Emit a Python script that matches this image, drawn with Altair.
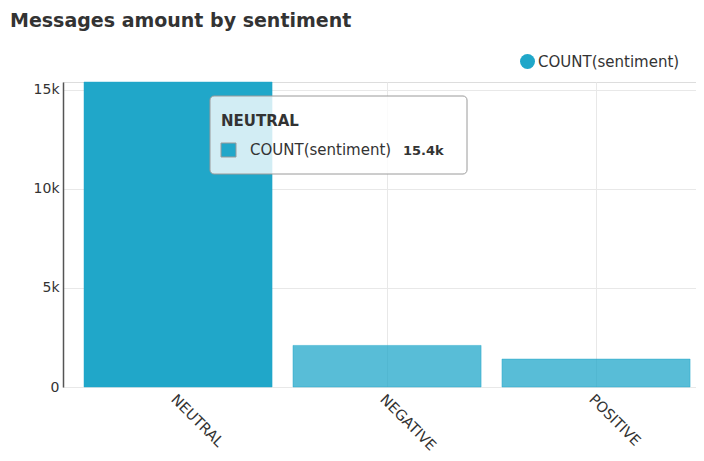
import altair as alt
import pandas as pd

# ---- data ----
sentiments = ["NEUTRAL", "NEGATIVE", "POSITIVE"]
counts = [15400, 2100, 1410]
series_name = "COUNT(sentiment)"
title_text = "Messages amount by sentiment"
y_max = 15400
y_ticks = [0, 5000, 10000, 15000]
hovered = "NEUTRAL"

df = pd.DataFrame({"sentiment": sentiments, "count": counts,
                   "series": [series_name] * len(sentiments)})
tip_df = df[df["sentiment"] == hovered].reset_index(drop=True)

FONT = "DejaVu Sans"
TEXT = "#333333"
BAR = "#20A7C9"
GRID = "#e8e8e8"

x_enc = alt.X(
    "sentiment:N", sort=sentiments, title=None,
    scale=alt.Scale(paddingInner=0.1, paddingOuter=0.0644, align=0.78),
    axis=alt.Axis(labelAngle=45, labelAlign="left", labelBaseline="top",
                  labelPadding=5, labelFontSize=14.5, labelColor=TEXT, labelFont=FONT,
                  domain=False, ticks=False, grid=True, gridColor=GRID, gridWidth=1),
)
y_enc = alt.Y(
    "count:Q", title=None,
    scale=alt.Scale(domain=[0, y_max], nice=False),
    axis=alt.Axis(values=y_ticks,
                  labelExpr="datum.value == 0 ? '0' : format(datum.value, '~s')",
                  labelFontSize=14, labelColor=TEXT,
                  labelFont=FONT, labelPadding=4, ticks=False, tickSize=0,
                  domain=True, domainColor="#555555", domainWidth=1.5,
                  grid=True, gridColor=GRID, gridWidth=1),
)

bars = alt.Chart(df).mark_bar(stroke=BAR, strokeWidth=1, strokeOpacity=0.45).encode(
    x=x_enc,
    y=y_enc,
    color=alt.Color(
        "series:N",
        scale=alt.Scale(range=[BAR]),
        legend=alt.Legend(orient="none", legendX=457, legendY=-28, title=None,
                          symbolType="circle", symbolSize=225, symbolStrokeWidth=0,
                          symbolOpacity=1, labelFontSize=15, labelFont=FONT,
                          labelColor=TEXT, labelOffset=3),
    ),
    fillOpacity=alt.condition(alt.datum.sentiment == hovered, alt.value(1), alt.value(0.75)),
)

tip_box = alt.Chart(tip_df).mark_rect(
    fill="white", fillOpacity=0.8, stroke="#9a9a9a", strokeWidth=1, cornerRadius=4
).encode(x=alt.value(147), x2=alt.value(404), y=alt.value(14), y2=alt.value(92))

tip_title = alt.Chart(tip_df).mark_text(
    align="left", baseline="alphabetic", font=FONT, fontSize=15, fontWeight="bold", color=TEXT
).encode(x=alt.value(158), y=alt.value(44), text="sentiment:N")

tip_swatch = alt.Chart(tip_df).mark_rect(fill=BAR, stroke="#999999", strokeWidth=1).encode(
    x=alt.value(158), x2=alt.value(173), y=alt.value(61), y2=alt.value(75)
)

tip_label = alt.Chart(tip_df).mark_text(
    align="left", baseline="alphabetic", font=FONT, fontSize=15, color=TEXT
).encode(x=alt.value(187), y=alt.value(73), text="series:N")

tip_value = alt.Chart(tip_df).mark_text(
    align="left", baseline="alphabetic", font=FONT, fontSize=13, fontWeight="bold", color=TEXT
).encode(x=alt.value(340), y=alt.value(73), text=alt.Text("count:Q", format=".3~s"))

chart = alt.layer(bars, tip_box, tip_title, tip_swatch, tip_label, tip_value).properties(
    width=633,
    height=305,
    title=alt.TitleParams(text=title_text, anchor="start", frame="group", font=FONT,
                          fontSize=19, fontWeight="bold", color=TEXT, dx=-53, dy=-23,
                          offset=0),
    autosize=alt.AutoSizeParams(type="none"),
    padding={"left": 55, "top": 74, "right": 0, "bottom": 66},
).configure_view(stroke=None).configure(background="white")

chart.save("out.html", embed_options={"renderer": "svg", "actions": False})
